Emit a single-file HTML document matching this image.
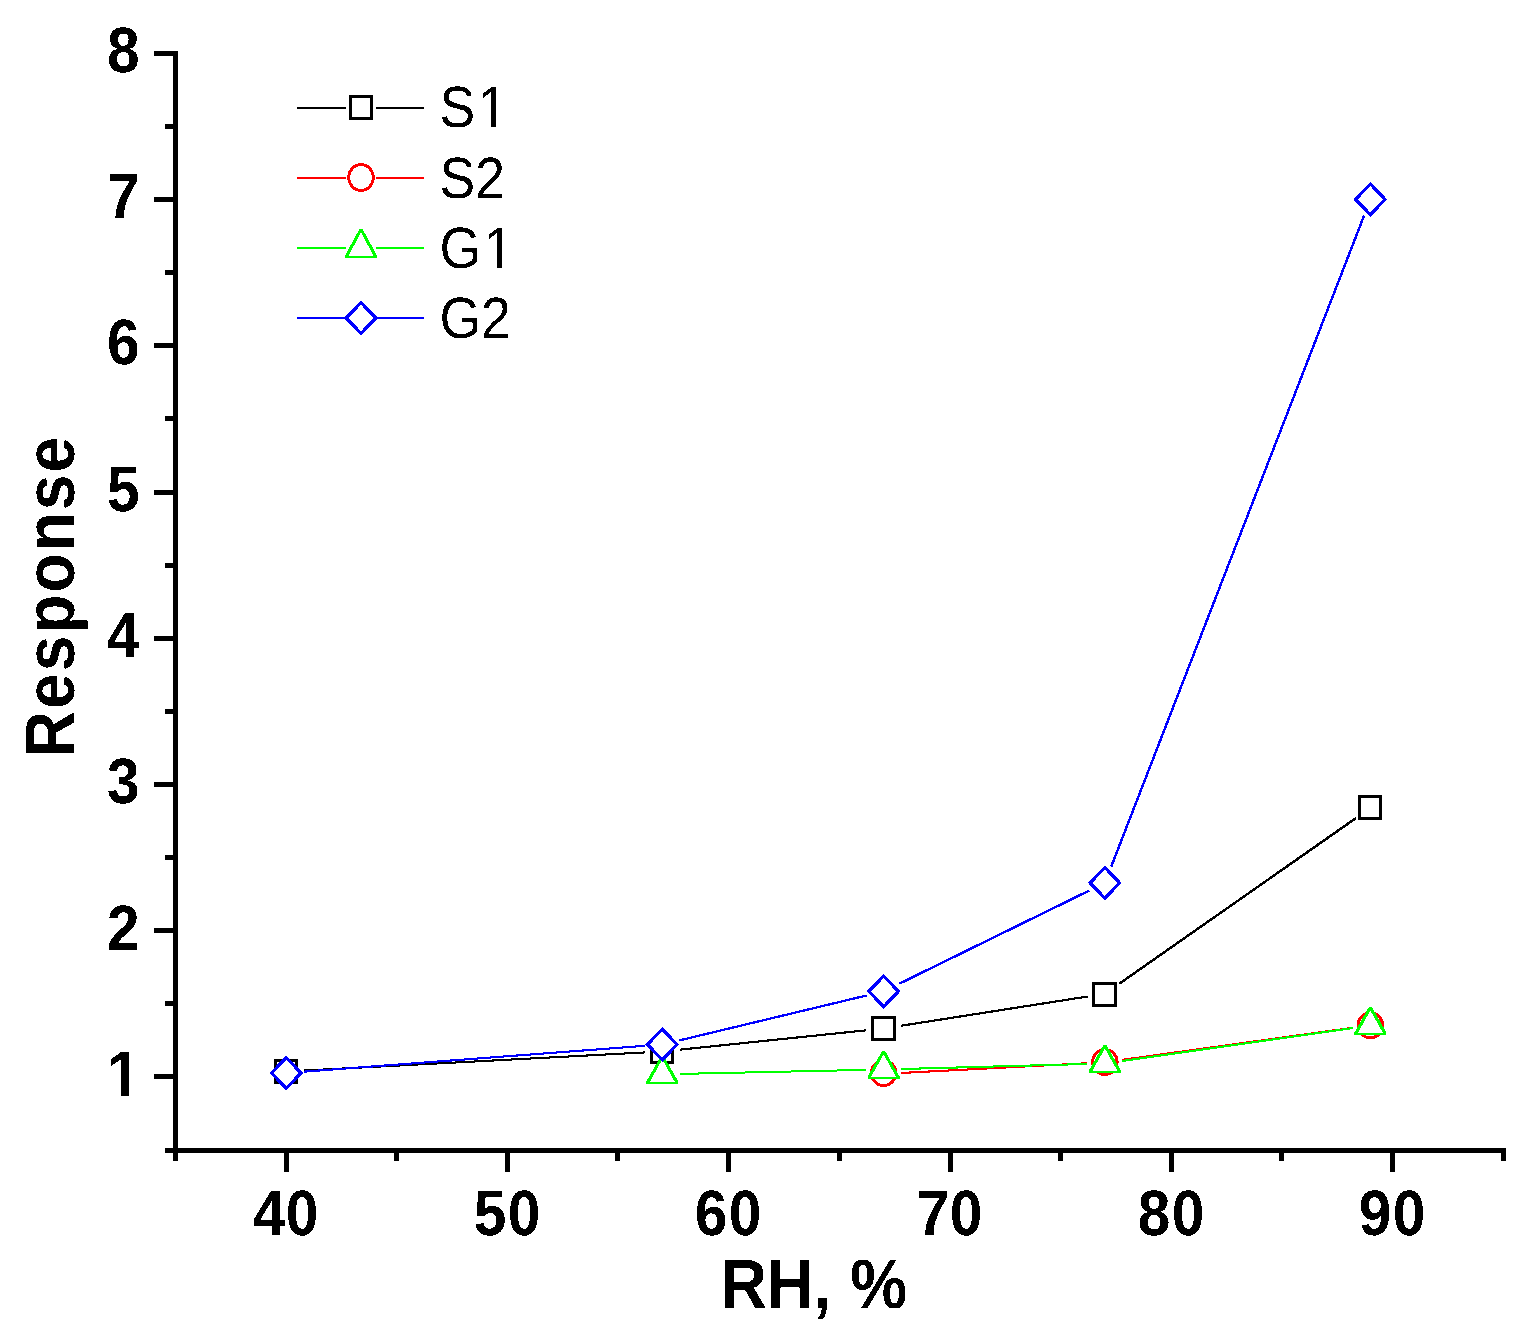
<!DOCTYPE html>
<html lang="en">
<head>
<meta charset="utf-8">
<title>Response vs RH</title>
<style>
html,body{margin:0;padding:0;background:#fff;}
body{width:1536px;height:1342px;overflow:hidden;}
svg{display:block;}
text{text-rendering:geometricPrecision;}
</style>
</head>
<body>
<svg width="1536" height="1342" viewBox="0 0 1536 1342">
<rect x="0" y="0" width="1536" height="1342" fill="#fff"/>
<g id="plot" shape-rendering="crispEdges">
<g class="series-S1">
<line x1="303.68" y1="1070.57" x2="644.82" y2="1052.43" stroke="#000000" stroke-width="2.06"/>
<line x1="679.71" y1="1049.69" x2="866.19" y2="1030.31" stroke="#000000" stroke-width="2.12"/>
<line x1="900.89" y1="1025.79" x2="1087.61" y2="996.51" stroke="#000000" stroke-width="2.17"/>
<line x1="1119.24" y1="983.77" x2="1356.06" y2="818.03" stroke="#000000" stroke-width="2.45"/>
<rect x="274" y="1059" width="24" height="25" fill="#000000"/><rect x="277" y="1062" width="18" height="19" fill="#fff"/>
<rect x="650" y="1039" width="24" height="25" fill="#000000"/><rect x="653" y="1042" width="18" height="19" fill="#fff"/>
<rect x="871" y="1016" width="25" height="25" fill="#000000"/><rect x="874" y="1019" width="19" height="19" fill="#fff"/>
<rect x="1092" y="982" width="25" height="25" fill="#000000"/><rect x="1095" y="985" width="19" height="19" fill="#fff"/>
<rect x="1358" y="795" width="24" height="25" fill="#000000"/><rect x="1361" y="798" width="18" height="19" fill="#fff"/>
</g>
<g class="series-S2">
<line x1="901.08" y1="1072.98" x2="1087.42" y2="1063.22" stroke="#ff0000" stroke-width="2.06"/>
<line x1="1122.23" y1="1059.88" x2="1353.07" y2="1027.72" stroke="#ff0000" stroke-width="2.16"/>
<ellipse cx="883.60" cy="1073.00" rx="12.20" ry="12.50" fill="#fff" stroke="#ff0000" stroke-width="3.00"/>
<ellipse cx="1104.90" cy="1062.00" rx="12.20" ry="12.50" fill="#fff" stroke="#ff0000" stroke-width="3.00"/>
<ellipse cx="1370.40" cy="1025.30" rx="12.20" ry="12.50" fill="#fff" stroke="#ff0000" stroke-width="3.00"/>
</g>
<g class="series-G1">
<line x1="679.80" y1="1073.92" x2="866.10" y2="1069.88" stroke="#00ff00" stroke-width="2.02"/>
<line x1="901.09" y1="1069.03" x2="1087.41" y2="1063.97" stroke="#00ff00" stroke-width="2.03"/>
<line x1="1122.22" y1="1061.02" x2="1353.08" y2="1027.98" stroke="#00ff00" stroke-width="2.16"/>
<polygon points="660.80,1056.00 663.80,1056.00 678.30,1081.50 678.30,1084.00 646.30,1084.00 646.30,1081.50" fill="#00ff00"/><polygon points="662.30,1059.50 674.70,1081.60 649.90,1081.60" fill="#fff"/>
<polygon points="882.10,1051.00 885.10,1051.00 899.60,1076.50 899.60,1079.00 867.60,1079.00 867.60,1076.50" fill="#00ff00"/><polygon points="883.60,1054.50 896.00,1076.60 871.20,1076.60" fill="#fff"/>
<polygon points="1103.40,1045.00 1106.40,1045.00 1120.90,1070.50 1120.90,1073.00 1088.90,1073.00 1088.90,1070.50" fill="#00ff00"/><polygon points="1104.90,1048.50 1117.30,1070.60 1092.50,1070.60" fill="#fff"/>
<polygon points="1368.90,1007.00 1371.90,1007.00 1386.40,1032.50 1386.40,1035.00 1354.40,1035.00 1354.40,1032.50" fill="#00ff00"/><polygon points="1370.40,1010.50 1382.80,1032.60 1358.00,1032.60" fill="#fff"/>
</g>
<g class="series-G2">
<line x1="303.65" y1="1071.68" x2="644.85" y2="1045.82" stroke="#0000ff" stroke-width="2.09"/>
<line x1="679.32" y1="1040.42" x2="866.58" y2="995.48" stroke="#0000ff" stroke-width="2.26"/>
<line x1="899.31" y1="983.70" x2="1089.19" y2="890.60" stroke="#0000ff" stroke-width="2.45"/>
<line x1="1111.24" y1="866.59" x2="1364.06" y2="215.71" stroke="#0000ff" stroke-width="2.45"/>
<path d="M286.20 1057.70L301.00 1073.00L286.20 1088.30L271.40 1073.00Z" fill="#fff" stroke="#0000ff" stroke-width="3.10" stroke-linejoin="miter"/>
<path d="M662.30 1029.20L677.10 1044.50L662.30 1059.80L647.50 1044.50Z" fill="#fff" stroke="#0000ff" stroke-width="3.10" stroke-linejoin="miter"/>
<path d="M883.60 976.10L898.40 991.40L883.60 1006.70L868.80 991.40Z" fill="#fff" stroke="#0000ff" stroke-width="3.10" stroke-linejoin="miter"/>
<path d="M1104.90 867.60L1119.70 882.90L1104.90 898.20L1090.10 882.90Z" fill="#fff" stroke="#0000ff" stroke-width="3.10" stroke-linejoin="miter"/>
<path d="M1370.40 184.10L1385.20 199.40L1370.40 214.70L1355.60 199.40Z" fill="#fff" stroke="#0000ff" stroke-width="3.10" stroke-linejoin="miter"/>
</g>
</g>
<g id="axes" fill="#000" shape-rendering="crispEdges">
<rect x="173" y="51" width="5" height="1110"/>
<rect x="165" y="1148" width="1341" height="5"/>
<rect x="154" y="1074" width="19" height="5"/>
<rect x="165" y="1001" width="8" height="5"/>
<rect x="154" y="928" width="19" height="5"/>
<rect x="165" y="855" width="8" height="5"/>
<rect x="154" y="782" width="19" height="5"/>
<rect x="165" y="709" width="8" height="5"/>
<rect x="154" y="636" width="19" height="5"/>
<rect x="165" y="563" width="8" height="5"/>
<rect x="154" y="490" width="19" height="5"/>
<rect x="165" y="416" width="8" height="5"/>
<rect x="154" y="343" width="19" height="5"/>
<rect x="165" y="270" width="8" height="5"/>
<rect x="154" y="197" width="19" height="5"/>
<rect x="165" y="124" width="8" height="5"/>
<rect x="154" y="51" width="19" height="5"/>
<rect x="284" y="1153" width="5" height="19"/>
<rect x="394" y="1153" width="5" height="8"/>
<rect x="505" y="1153" width="5" height="19"/>
<rect x="615" y="1153" width="5" height="8"/>
<rect x="726" y="1153" width="5" height="19"/>
<rect x="837" y="1153" width="5" height="8"/>
<rect x="948" y="1153" width="5" height="19"/>
<rect x="1058" y="1153" width="5" height="8"/>
<rect x="1169" y="1153" width="5" height="19"/>
<rect x="1279" y="1153" width="5" height="8"/>
<rect x="1390" y="1153" width="5" height="19"/>
<rect x="1501" y="1153" width="5" height="8"/>
</g>
<defs>
<filter id="bw" x="-5%" y="-5%" width="110%" height="110%" color-interpolation-filters="sRGB"><feComponentTransfer><feFuncA type="discrete" tableValues="0 1"/></feComponentTransfer></filter>
<clipPath id="c1b"><path clip-rule="evenodd" d="M-200,-200H200V100H-200ZM-30.43,-6.99H-18.94V3H-30.43ZM-10.89,-6.99H-0.13V3H-10.89Z"/></clipPath>
<clipPath id="c1s"><path clip-rule="evenodd" d="M-200,-200H200V100H-200ZM40.86,-5.00H51.74V3H40.86ZM56.47,-5.00H66.93V3H56.47Z"/></clipPath>
<clipPath id="c1g"><path clip-rule="evenodd" d="M-200,-200H200V100H-200ZM46.79,-5.00H57.67V3H46.79ZM62.40,-5.00H72.86V3H62.40Z"/></clipPath>
</defs>
<g id="ticklabels" filter="url(#bw)">
<text transform="translate(139.50 1096.00) scale(1.0000 1.0900)" font-family="'Liberation Sans', Arial, Helvetica, sans-serif" font-weight="bold" font-size="58.67" text-anchor="end" clip-path="url(#c1b)" fill="#000">1</text>
<text transform="translate(139.50 950.00) scale(1.0000 1.0900)" font-family="'Liberation Sans', Arial, Helvetica, sans-serif" font-weight="bold" font-size="58.67" text-anchor="end" fill="#000">2</text>
<text transform="translate(139.50 803.00) scale(1.0000 1.0900)" font-family="'Liberation Sans', Arial, Helvetica, sans-serif" font-weight="bold" font-size="58.67" text-anchor="end" fill="#000">3</text>
<text transform="translate(139.50 657.00) scale(1.0000 1.0900)" font-family="'Liberation Sans', Arial, Helvetica, sans-serif" font-weight="bold" font-size="58.67" text-anchor="end" fill="#000">4</text>
<text transform="translate(139.50 511.00) scale(1.0000 1.0900)" font-family="'Liberation Sans', Arial, Helvetica, sans-serif" font-weight="bold" font-size="58.67" text-anchor="end" fill="#000">5</text>
<text transform="translate(139.50 364.00) scale(1.0000 1.0900)" font-family="'Liberation Sans', Arial, Helvetica, sans-serif" font-weight="bold" font-size="58.67" text-anchor="end" fill="#000">6</text>
<text transform="translate(139.50 218.00) scale(1.0000 1.0900)" font-family="'Liberation Sans', Arial, Helvetica, sans-serif" font-weight="bold" font-size="58.67" text-anchor="end" fill="#000">7</text>
<text transform="translate(139.50 72.00) scale(1.0000 1.0900)" font-family="'Liberation Sans', Arial, Helvetica, sans-serif" font-weight="bold" font-size="58.67" text-anchor="end" fill="#000">8</text>
<text transform="translate(252.90 1235.00) scale(1.0000 1.0900)" font-family="'Liberation Sans', Arial, Helvetica, sans-serif" font-weight="bold" font-size="58.67" text-anchor="start" x="0 32.83" fill="#000">40</text>
<text transform="translate(473.85 1235.00) scale(1.0000 1.0900)" font-family="'Liberation Sans', Arial, Helvetica, sans-serif" font-weight="bold" font-size="58.67" text-anchor="start" x="0 33.88" fill="#000">50</text>
<text transform="translate(694.67 1235.00) scale(1.0000 1.0900)" font-family="'Liberation Sans', Arial, Helvetica, sans-serif" font-weight="bold" font-size="58.67" text-anchor="start" x="0 34.06" fill="#000">60</text>
<text transform="translate(916.71 1235.00) scale(1.0000 1.0900)" font-family="'Liberation Sans', Arial, Helvetica, sans-serif" font-weight="bold" font-size="58.67" text-anchor="start" x="0 33.02" fill="#000">70</text>
<text transform="translate(1137.66 1235.00) scale(1.0000 1.0900)" font-family="'Liberation Sans', Arial, Helvetica, sans-serif" font-weight="bold" font-size="58.67" text-anchor="start" x="0 34.07" fill="#000">80</text>
<text transform="translate(1358.76 1235.00) scale(1.0000 1.0900)" font-family="'Liberation Sans', Arial, Helvetica, sans-serif" font-weight="bold" font-size="58.67" text-anchor="start" x="0 33.97" fill="#000">90</text>
</g>
<g id="titles" filter="url(#bw)">
<text transform="translate(720.70 1308.00) scale(1.0000 1.0900)" font-family="'Liberation Sans', Arial, Helvetica, sans-serif" font-weight="bold" font-size="64.00" text-anchor="start" x="0.00 46.22 92.44 110.22 129.50" fill="#000">RH, %</text>
<text transform="translate(74.00 757.30) rotate(-90) scale(1.0000 1.0900)" font-family="'Liberation Sans', Arial, Helvetica, sans-serif" font-weight="bold" font-size="64.00" text-anchor="start" letter-spacing="2.070" fill="#000">Response</text>
</g>
<g id="legend">
<g shape-rendering="crispEdges">
<rect x="297" y="107" width="49" height="2" fill="#000000"/>
<rect x="376" y="107" width="48" height="2" fill="#000000"/>
<rect x="350.50" y="96.50" width="21.00" height="22.00" fill="#fff" stroke="#000000" stroke-width="3.00"/>
<rect x="297" y="177" width="49" height="2" fill="#ff0000"/>
<rect x="376" y="177" width="48" height="2" fill="#ff0000"/>
<ellipse cx="361.00" cy="177.50" rx="12.20" ry="13.00" fill="#fff" stroke="#ff0000" stroke-width="3.00"/>
<rect x="297" y="247" width="49" height="2" fill="#00ff00"/>
<rect x="376" y="247" width="48" height="2" fill="#00ff00"/>
<polygon points="359.50,229.00 362.50,229.00 377.00,255.50 377.00,258.00 345.00,258.00 345.00,255.50" fill="#00ff00"/><polygon points="361.00,232.50 373.40,255.60 348.60,255.60" fill="#fff"/>
<rect x="297" y="317" width="49" height="2" fill="#0000ff"/>
<rect x="376" y="317" width="48" height="2" fill="#0000ff"/>
<path d="M361.00 302.70L375.80 318.00L361.00 333.30L346.20 318.00Z" fill="#fff" stroke="#0000ff" stroke-width="3.10" stroke-linejoin="miter"/>
</g>
<g id="legendtext" filter="url(#bw)">
<text transform="translate(439.50 127.00) scale(1.0000 1.0900)" font-family="'Liberation Sans', Arial, Helvetica, sans-serif" font-weight="normal" font-size="53.50" text-anchor="start" x="0 38.28" clip-path="url(#c1s)" fill="#000">S1</text>
<text transform="translate(439.50 198.00) scale(1.0000 1.0900)" font-family="'Liberation Sans', Arial, Helvetica, sans-serif" font-weight="normal" font-size="53.50" text-anchor="start" fill="#000">S2</text>
<text transform="translate(439.50 268.00) scale(1.0000 1.0900)" font-family="'Liberation Sans', Arial, Helvetica, sans-serif" font-weight="normal" font-size="53.50" text-anchor="start" x="0 44.21" clip-path="url(#c1g)" fill="#000">G1</text>
<text transform="translate(439.50 338.00) scale(1.0000 1.0900)" font-family="'Liberation Sans', Arial, Helvetica, sans-serif" font-weight="normal" font-size="53.50" text-anchor="start" fill="#000">G2</text>
</g>
</g>
</svg>
</body>
</html>
